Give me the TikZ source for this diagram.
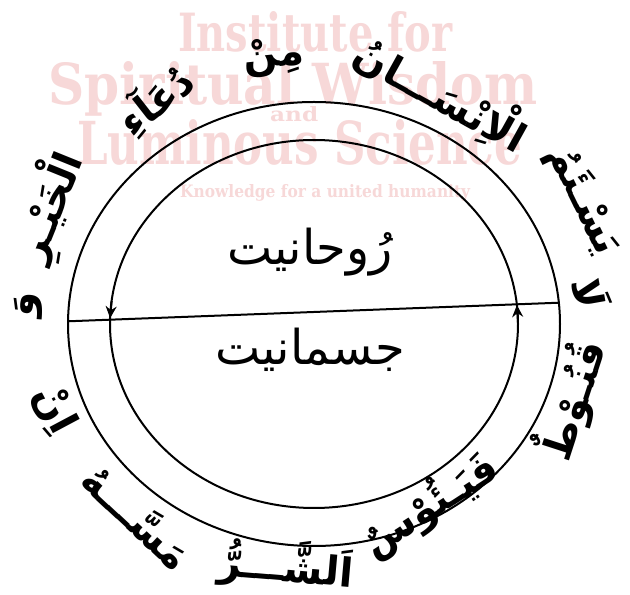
\documentclass[tikz,border=0pt]{standalone}
\usepackage{fontspec}
\usetikzlibrary{arrows.meta,calc}
\TeXXeTstate=1
\newfontfamily\arabicfont[Script=Arabic]{DejaVu Sans}
\newfontfamily\wmfont{DejaVu Serif}
\definecolor{wmpink}{RGB}{247,216,216}
\newcommand\artxt[1]{\beginR #1\endR}
\tikzset{
  word/.style={font=\arabicfont\bfseries\fontsize{40}{46}\selectfont, inner sep=0pt},
  bigword/.style={font=\arabicfont\fontsize{48}{56}\selectfont, inner sep=0pt},
  wmark/.style={text=wmpink, font=\wmfont\bfseries, inner sep=0pt, anchor=base west},
  ringline/.style={line width=2pt},
  barb/.style={-{Stealth[length=12pt,width=11pt,inset=4pt]}, line width=2pt}
}
\begin{document}
\begin{tikzpicture}[x=1pt,y=1pt]
\fill[white] (0,0) rectangle (630,595);
\useasboundingbox (0,0) rectangle (630,595);
% watermark
\node[wmark] (wm1) at (178,543) {\resizebox{274pt}{40pt}{Institute for}};
\node[wmark] (wm2) at (48,490) {\resizebox{489pt}{43pt}{Spiritual Wisdom}};
\node[wmark] (wm3) at (270,473) {\resizebox{48pt}{15pt}{and}};
\node[wmark] (wm4) at (77,430) {\resizebox{445pt}{45pt}{Luminous Science}};
\node[wmark] (wm5) at (180,397) {\resizebox{290pt}{13pt}{Knowledge for a united humanity}};
% geometry
\coordinate (C) at (314,271);
\draw[ringline] (C) ellipse [x radius=246pt, y radius=222pt];
\draw[ringline] (C) ellipse [x radius=204pt, y radius=184pt];
\coordinate (L) at ($(C)+(179.3:246pt and 222pt)$);
\coordinate (R) at ($(C)+(5.5:246pt and 222pt)$);
\draw[ringline] (L) -- (R);
\coordinate (a1) at ($(C)+(172.8:204pt and 184pt)$);
\coordinate (a2) at ($(C)+(178.2:204pt and 184pt)$);
\draw[barb] (a1) -- (a2);
\coordinate (b1) at ($(C)+(0.5:204pt and 184pt)$);
\coordinate (b2) at ($(C)+(5.9:204pt and 184pt)$);
\draw[barb] (b1) -- (b2);
% centre words
\node[bigword] (ruh) at (310,343) {\artxt{رُوحانیت}};
\node[bigword] (jism) at (310,245) {\artxt{جسمانیت}};
% ring words
\node[word, rotate=-80] (w1) at (592,302) {\artxt{لَا}};
\node[word, rotate=-64] (w2) at (583,395) {\artxt{يَسْـئَمُ}};
\node[word, rotate=-29] (w3) at (442,502) {\artxt{الْاِنْسَـــانُ}};
\node[word, rotate=6] (w4) at (274,538) {\artxt{مِنْ}};
\node[word, rotate=38] (w5) at (155,495) {\artxt{دُعَآءِ}};
\node[word, rotate=68] (w6) at (50,388) {\artxt{الْخَيْـرِ}};
\node[word, rotate=85] (w7) at (28,290) {\artxt{وَ}};
\node[word, rotate=-62] (w8) at (55,185) {\artxt{اِنْ}};
\node[word, rotate=-43] (w9) at (138,79) {\artxt{مَسَّـــهُ}};
\node[word, rotate=-5] (w10) at (286,30) {\artxt{اَلشَّـــرُّ}};
\node[word, rotate=33] (w11) at (430,90) {\artxt{فَيَـئُوْسٌ}};
\node[word, rotate=72] (w12) at (571,195) {\artxt{قُنُـوْطٌ}};
\end{tikzpicture}
\end{document}
